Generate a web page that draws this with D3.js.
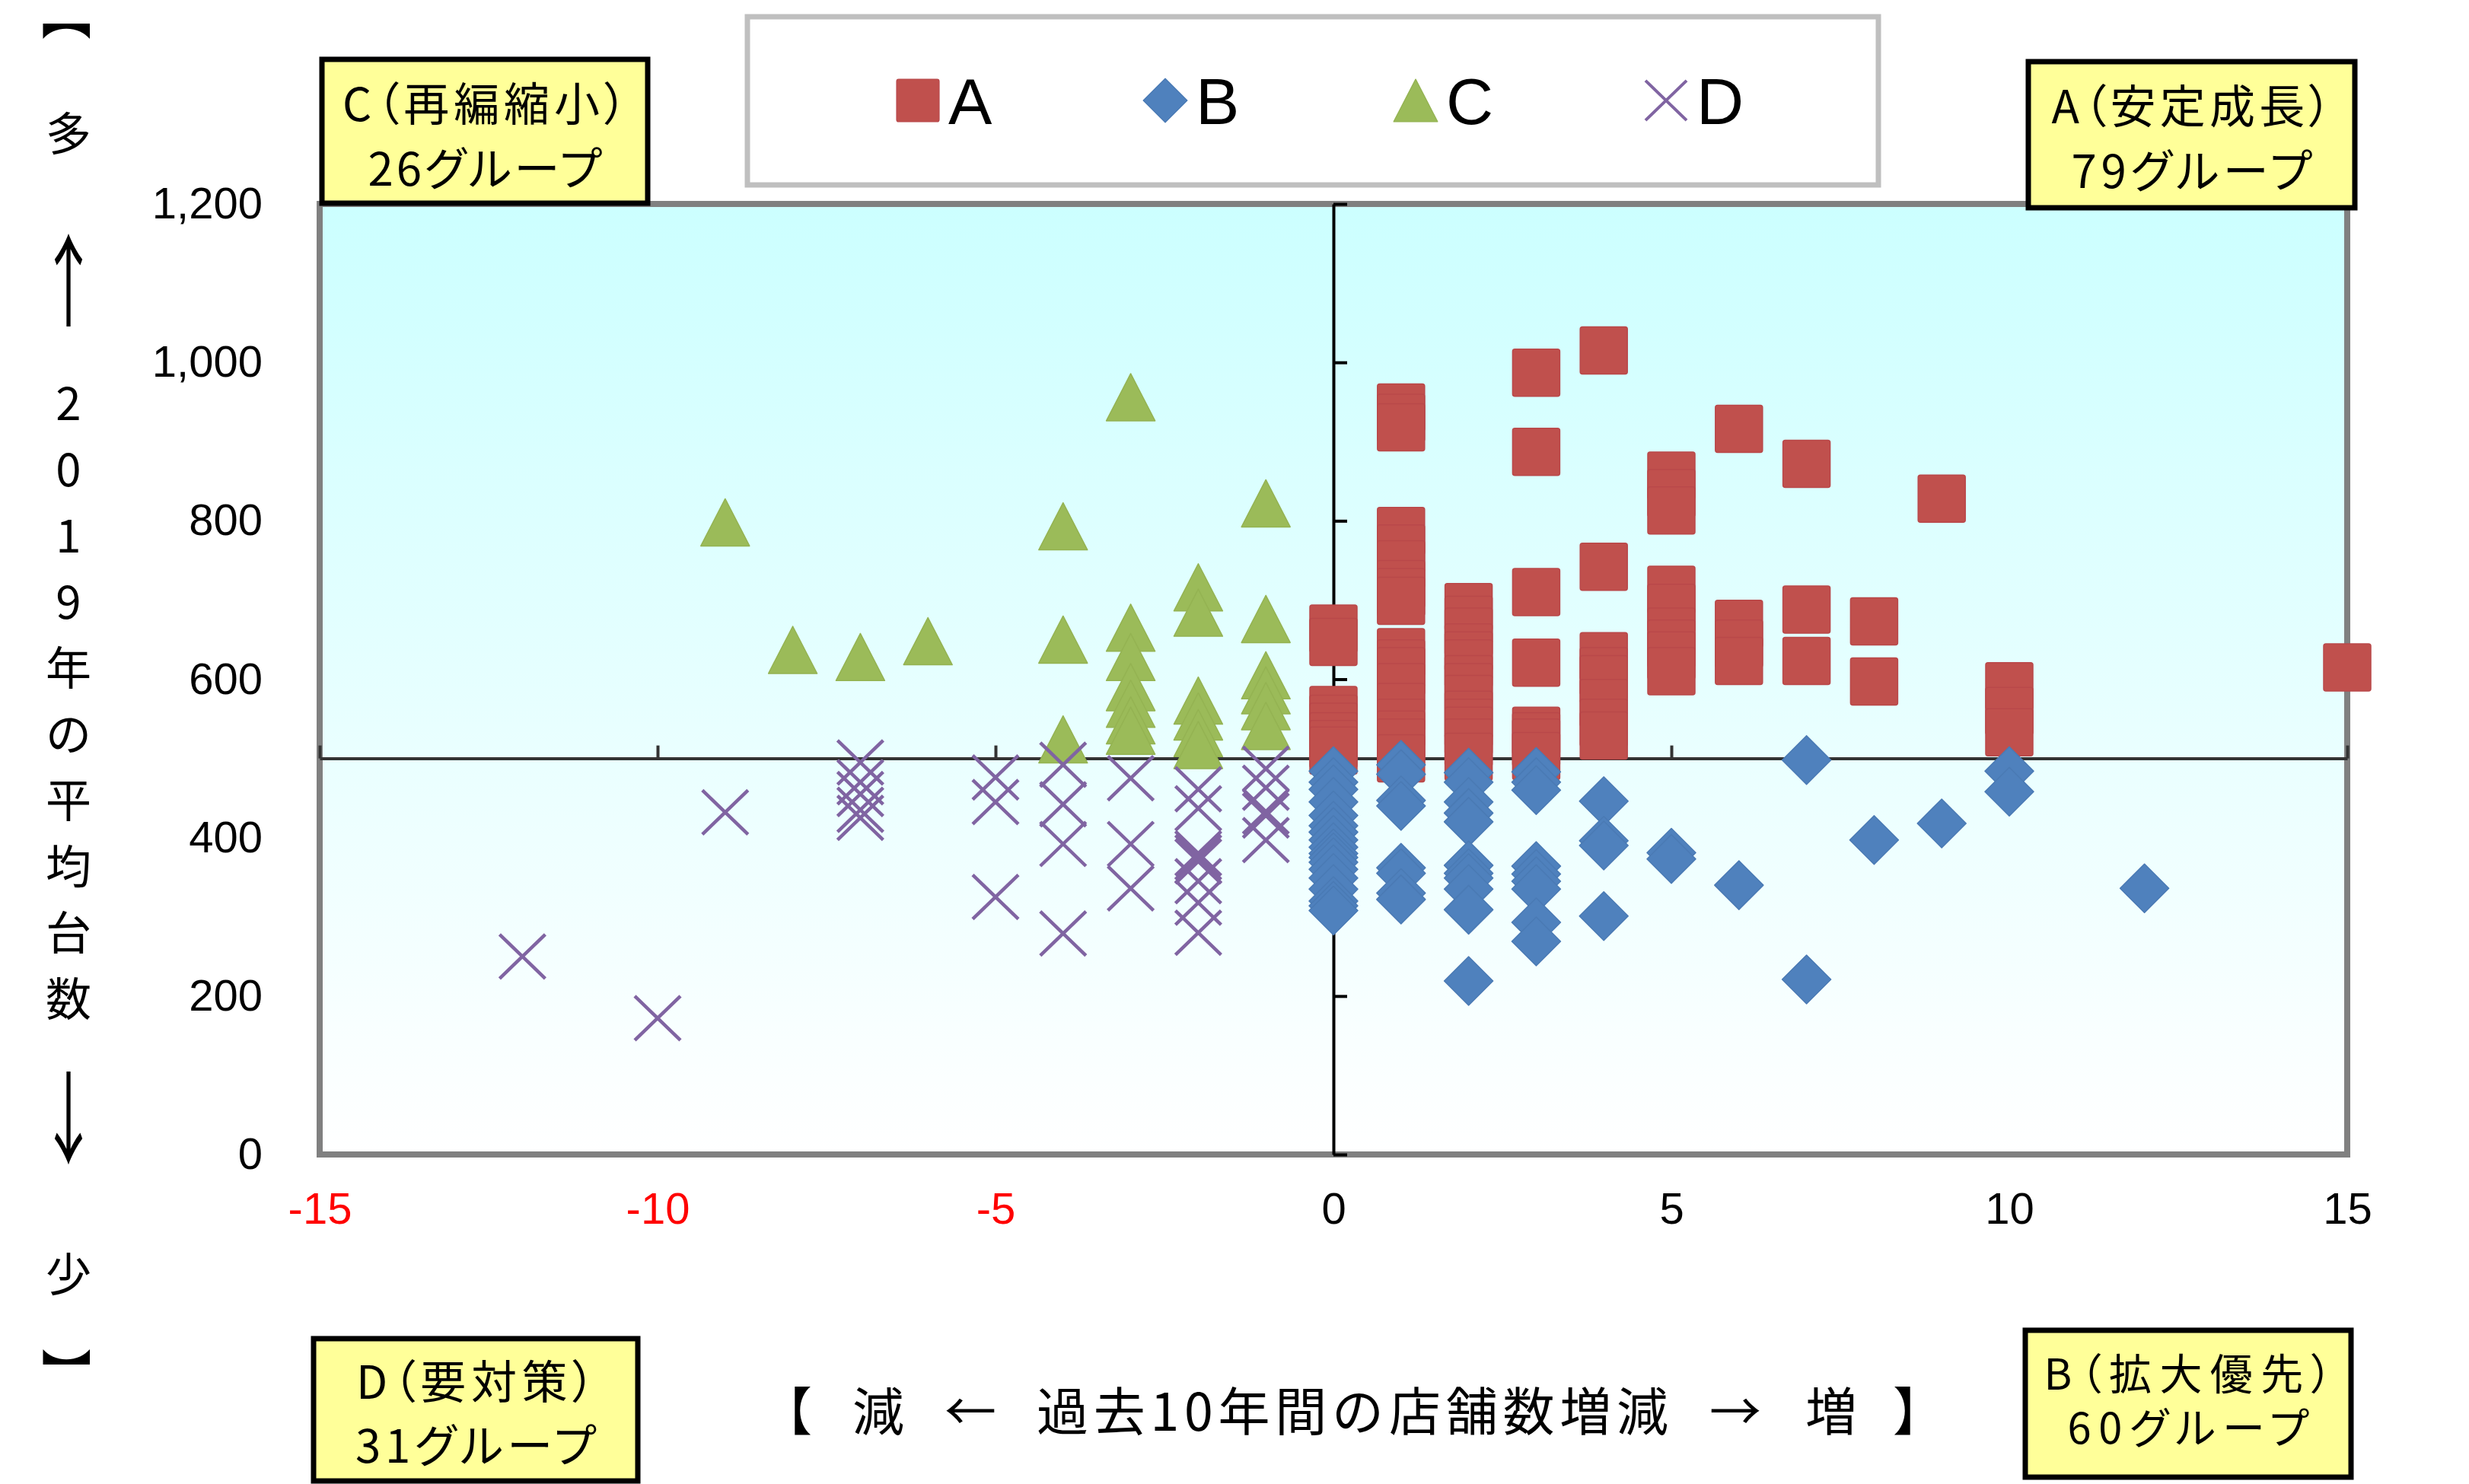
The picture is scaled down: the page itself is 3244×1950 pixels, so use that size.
<!DOCTYPE html>
<html><head><meta charset="utf-8">
<script src="https://cdnjs.cloudflare.com/ajax/libs/d3/7.8.5/d3.min.js"></script>
<style>body{margin:0;background:#fff}</style>
</head><body><svg id="c" width="3244" height="1950"></svg>
<script>
// ---------- DATA ----------
const seriesNames = ["A", "B", "C", "D"];
// A: 安定成長 (x: 店舗数増減, y: 平均台数)
const seriesA = [
  [0,664],[0,647],[0,561],[0,550],[0,540],[0,528],[0,518],[0,510],
  [1,943],[1,930],[1,918],[1,787],[1,765],[1,745],[1,720],[1,710],[1,699],[1,634],[1,620],[1,610],[1,590],[1,565],[1,545],[1,530],[1,520],[1,500],
  [2,691],[2,675],[2,660],[2,640],[2,630],[2,620],[2,600],[2,590],[2,575],[2,555],[2,545],[2,535],[2,520],[2,502],
  [3,987],[3,887],[3,710],[3,621],[3,535],[3,528],[3,520],[3,503],
  [4,1015],[4,742],[4,629],[4,610],[4,600],[4,570],[4,545],[4,529],
  [5,857],[5,835],[5,813],[5,713],[5,690],[5,660],[5,645],[5,630],[5,610],
  [6,916],[6,670],[6,645],[6,623],
  [7,872],[7,688],[7,623],
  [8,673],[8,597],
  [9,828],
  [10,591],[10,560],[10,533],
  [15,615]
];
// B: 拡大優先
const seriesB = [
  [0,484],[0,470],[0,461],[0,445],[0,428],[0,415],[0,407],[0,397],[0,388],[0,380],[0,375],[0,369],[0,360],[0,349],[0,335],[0,320],[0,314],[0,308],
  [1,492],[1,480],[1,447],[1,440],[1,362],[1,355],[1,330],[1,322],
  [2,482],[2,470],[2,445],[2,431],[2,420],[2,365],[2,355],[2,349],[2,335],[2,309],[2,219],
  [3,483],[3,470],[3,460],[3,364],[3,354],[3,345],[3,335],[3,293],[3,269],
  [4,446],[4,396],[4,390],[4,301],
  [5,381],[5,373],
  [6,340],
  [7,498],[7,221],
  [8,397],
  [9,418],
  [10,484],[10,458],
  [12,336]
];
// C: 再編縮小
const seriesC = [
  [-9,798],[-8,637],[-7,628],[-6,648],
  [-4,793],[-4,650],[-4,524],
  [-3,956],[-3,665],[-3,628],[-3,590],[-3,569],[-3,548],[-3,535],
  [-2,716],[-2,684],[-2,573],[-2,553],[-2,532],[-2,517],
  [-1,822],[-1,676],[-1,605],[-1,586],[-1,566],[-1,541]
];
// D: 要対策
const seriesD = [
  [-12,250],[-10,172],[-9,432],
  [-7,495],[-7,470],[-7,455],[-7,435],[-7,425],
  [-5,476],[-5,445],[-5,325],
  [-4,492],[-4,442],[-4,392],[-4,279],
  [-3,475],[-3,392],[-3,336],
  [-2,461],[-2,437],[-2,380],[-2,375],[-2,370],[-2,345],[-2,318],[-2,280],
  [-1,487],[-1,463],[-1,433],[-1,428],[-1,397]
];
const xTicks = [-15, -10, -5, 0, 5, 10, 15];
const yTicks = [0, 200, 400, 600, 800, 1000, 1200];
const xDomain = [-15, 15];
const yDomain = [0, 1200];
const dividerY = 500;
const quadrantLabels = {
  A: ["A（安定成長）", "79グループ"],
  B: ["B（拡大優先）", "60グループ"],
  C: ["C（再編縮小）", "26グループ"],
  D: ["D（要対策）", "31グループ"]
};
const xTitleParts = ["【", "減", "←", "過去10年間の店舗数増減", "→", "増", "】"];
const yTitleChars = ["【", "多", "↑", "2", "0", "1", "9", "年", "の", "平", "均", "台", "数", "↓", "少", "】"];

// ---------- CHART ----------
const W = 3244, H = 1950;
const L = 420, R = 3084, T = 268, B = 1517;
const JP = "'Noto Sans CJK JP', 'Noto Sans CJK SC', sans-serif";
const NUM = "'Liberation Sans', Arial, sans-serif";
const colors = {A: "#C0504D", B: "#4F81BD", C: "#9BBB59", D: "#8064A2"};
const strokes = {A: "#B9484A", B: "#4A7AB4", C: "#94B352", D: "#8064A2"};

const svg = d3.select("#c");
svg.append("rect").attr("width", W).attr("height", H).attr("fill", "#fff");

const x = d3.scaleLinear().domain(xDomain).range([L, R]);
const y = d3.scaleLinear().domain(yDomain).range([B, T]);

const defs = svg.append("defs");
const grad = defs.append("linearGradient").attr("id", "bg").attr("x1", 0).attr("y1", 0).attr("x2", 0).attr("y2", 1);
grad.append("stop").attr("offset", "0%").attr("stop-color", "#CCFFFF");
grad.append("stop").attr("offset", "100%").attr("stop-color", "#FFFFFF");

svg.append("rect").attr("x", L).attr("y", T).attr("width", R - L).attr("height", B - T)
  .attr("fill", "url(#bg)").attr("stroke", "#808080").attr("stroke-width", 8);

// horizontal divider at 500 with ticks upward
const gMid = svg.append("g").attr("transform", `translate(0,${y(dividerY)})`)
  .call(d3.axisTop(x).tickValues(xTicks).tickSize(17).tickSizeOuter(0).tickFormat(""));
gMid.select(".domain").attr("stroke", "#333").attr("stroke-width", 4);
gMid.selectAll(".tick line").attr("stroke", "#333").attr("stroke-width", 4);

// vertical axis at x=0 with ticks to the right
const gV = svg.append("g").attr("transform", `translate(${x(0)},0)`)
  .call(d3.axisRight(y).tickValues(yTicks).tickSize(18).tickSizeOuter(0).tickFormat(""));
gV.select(".domain").attr("stroke", "#000").attr("stroke-width", 4);
gV.selectAll(".tick line").attr("stroke", "#000").attr("stroke-width", 4);

// y labels
const gYL = svg.append("g").attr("transform", `translate(${L},0)`)
  .call(d3.axisLeft(y).tickValues(yTicks).tickSize(0).tickPadding(75).tickFormat(d3.format(",")));
gYL.select(".domain").remove();
gYL.selectAll("text").attr("font-family", NUM).attr("font-size", 58).attr("fill", "#000");

// x labels
const gXL = svg.append("g").attr("transform", `translate(0,${B})`)
  .call(d3.axisBottom(x).tickValues(xTicks).tickSize(0).tickPadding(50).tickFormat(d => String(d)));
gXL.select(".domain").remove();
gXL.selectAll("text").attr("font-family", NUM).attr("font-size", 58)
  .attr("fill", d => d < 0 ? "#FF0000" : "#000");

// markers
const shapes = {
  A: "M-31,-28Q-31,-31 -28,-31L28,-31Q31,-31 31,-28L31,28Q31,31 28,31L-28,31Q-31,31 -31,28Z",
  B: "M0,-32L32,0L0,32L-32,0Z",
  C: "M0,-31L32,31L-32,31Z",
  D: "M-30,-29L30,29M30,-29L-30,29"
};
function drawMarker(sel, key) {
  if (key === "D") {
    sel.attr("d", shapes.D).attr("fill", "none").attr("stroke", colors.D).attr("stroke-width", 4.5);
  } else {
    sel.attr("d", shapes[key]).attr("fill", colors[key]).attr("stroke", strokes[key]).attr("stroke-width", 1.5)
      .attr("stroke-linejoin", "round");
  }
}
const allSeries = {A: seriesA, B: seriesB, C: seriesC, D: seriesD};
seriesNames.forEach(k => {
  svg.append("g").selectAll("path").data(allSeries[k]).join("path")
    .attr("transform", d => `translate(${x(d[0])},${y(d[1])})`)
    .call(drawMarker, k);
});

// legend
svg.append("rect").attr("x", 982).attr("y", 22).attr("width", 1486).attr("height", 221)
  .attr("fill", "#fff").attr("stroke", "#BFBFBF").attr("stroke-width", 7);
const legX = [1206, 1531, 1860, 2189];
seriesNames.forEach((k, i) => {
  const g = svg.append("g").attr("transform", `translate(${legX[i]},132)`);
  g.append("path").call(drawMarker, k).attr("transform", "scale(0.9)");
  g.append("text").attr("x", 40).attr("y", 31).attr("font-family", NUM).attr("font-size", 86)
    .attr("fill", "#000").text(k);
});

// quadrant label boxes
const boxes = [
  {k: "C", x0: 423, y0: 78, x1: 851, y1: 267, l1: 132, l2: 217, w1: 374, w2: 307, fs: 60},
  {k: "A", x0: 2665, y0: 81, x1: 3094, y1: 273, l1: 135, l2: 220, w1: 368, w2: 316, fs: 60},
  {k: "D", x0: 412, y0: 1759, x1: 838, y1: 1946, l1: 1811, l2: 1895, w1: 314, w2: 316, fs: 60},
  {k: "B", x0: 2661, y0: 1748, x1: 3089, y1: 1941, l1: 1801, l2: 1872, w1: 379, w2: 317, fs: 56}
];
boxes.forEach(b => {
  svg.append("rect").attr("x", b.x0).attr("y", b.y0).attr("width", b.x1 - b.x0).attr("height", b.y1 - b.y0)
    .attr("fill", "#FFFF99").attr("stroke", "#000").attr("stroke-width", 7);
  const cx = (b.x0 + b.x1) / 2;
  [[b.l1, b.w1], [b.l2, b.w2]].forEach(([ly, w], i) => {
    svg.append("text").attr("x", cx - w / 2).attr("y", ly)
      .attr("dominant-baseline", "central").attr("font-family", JP).attr("font-size", b.fs)
      .style("font-feature-settings", "'palt' 1")
      .attr("textLength", w).attr("lengthAdjust", "spacing")
      .attr("fill", "#000").text(quadrantLabels[b.k][i]);
  });
});

// x title
const xtPos = [1033, 1154, 1275, null, 2280, 2406, 2521];
xTitleParts.forEach((t, i) => {
  const tx = svg.append("text").attr("y", 1850).attr("dominant-baseline", "central")
    .attr("font-family", JP).attr("font-size", 68).attr("fill", "#000").text(t);
  if (xtPos[i] === null) {
    tx.attr("x", 1362).attr("textLength", 830).attr("lengthAdjust", "spacing");
  } else {
    tx.attr("x", xtPos[i]).attr("text-anchor", "middle");
  }
});

// y title (vertical)
const ytPos = [20, 171, 360, 525, 612, 699, 786, 873, 960, 1047, 1134, 1221, 1308, 1461, 1670, 1804];
yTitleChars.forEach((t, i) => {
  const cy = ytPos[i];
  const tx = svg.append("text").attr("x", 0).attr("y", 0).attr("text-anchor", "middle")
    .attr("dominant-baseline", "central").attr("font-family", JP).attr("font-size", 60)
    .attr("fill", "#000").text(t);
  if (t === "【" || t === "】") {
    tx.attr("font-size", 66).attr("transform", `translate(91,${cy}) rotate(90)`);
  } else if (t === "↑" || t === "↓") {
    tx.attr("transform", `translate(90,${cy}) scale(1.3,2.2)`);
  } else {
    tx.attr("transform", `translate(90,${cy})`);
  }
});
</script></body></html>
